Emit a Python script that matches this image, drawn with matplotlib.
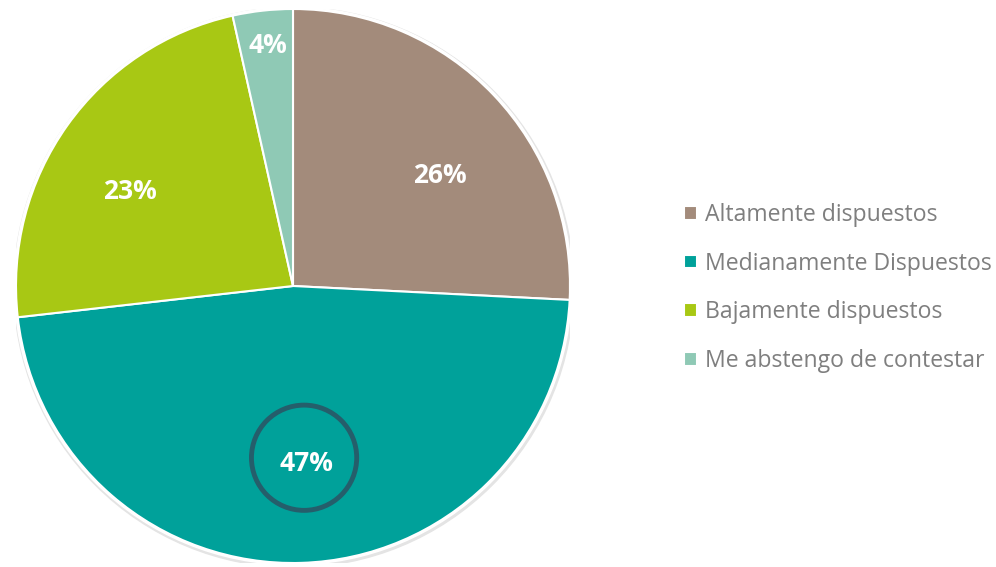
import matplotlib
matplotlib.use("Agg")
from matplotlib import pyplot as plt
from matplotlib.patches import Circle

labels = ["Altamente dispuestos", "Medianamente Dispuestos",
          "Bajamente dispuestos", "Me abstengo de contestar"]
values = [25.8, 47.4, 23.3, 3.5]
colors = ["#A38B7B", "#00A19A", "#A8C814", "#8FC9B5"]

# where the percentage labels sit inside the pie (axes data units)
label_pos = [(0.53, 0.40), (0.05, -0.64), (-0.59, 0.34), (-0.09, 0.87)]

plt.rcParams['font.family'] = ['Open Sans', 'DejaVu Sans']

fig = plt.figure(figsize=(9.96, 5.67), dpi=100)
ax = fig.add_axes([16/996, 4/567, 554/996, 554/567])

# soft shadow ring behind the pie
ax.add_patch(Circle((0.003, -0.005), 1.011, color="#E4E4E4", zorder=0))
ax.add_patch(Circle((0, 0), 1.006, color="white", zorder=0))

wedges, texts, autotexts = ax.pie(
    values, colors=colors, startangle=90, counterclock=False,
    autopct="%.0f%%", pctdistance=0.67,
    wedgeprops=dict(edgecolor="white", linewidth=1.5),
    textprops=dict(color="white", fontsize=19, fontweight="bold"))

for t, pos in zip(autotexts, label_pos):
    t.set_position(pos)

# highlight circle around the largest slice
x, y = autotexts[1].get_position()
ax.add_patch(Circle((x - 0.01, y + 0.02), 0.19, fill=False,
                    edgecolor="#255E6B", linewidth=3.5, zorder=5))

ax.set_xlim(-1, 1)
ax.set_ylim(-1, 1)
ax.set_aspect("equal")

leg = fig.legend(wedges, labels, loc="center left",
                 bbox_to_anchor=(0.666, 0.492), frameon=False,
                 fontsize=16.6, handlelength=0.55, handleheight=0.55,
                 handletextpad=0.35, labelspacing=1.07)
for t in leg.get_texts():
    t.set_color("#7F7F7F")

fig.savefig("out.png", dpi=100)
